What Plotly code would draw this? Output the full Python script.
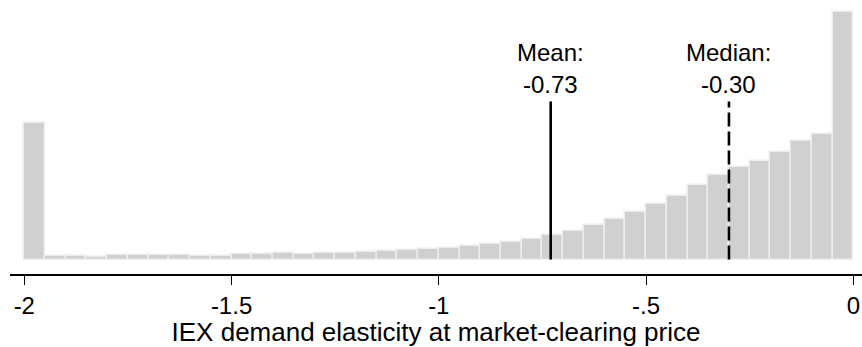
import plotly.graph_objects as go

# Histogram bins: width 0.05 from -2 to 0 (left edges)
bin_width = 0.05
bin_left = [-2 + i * bin_width for i in range(40)]
density = [1.75, 0.042, 0.042, 0.038, 0.055, 0.055, 0.055, 0.055, 0.051, 0.051,
           0.073, 0.073, 0.085, 0.077, 0.080, 0.080, 0.093, 0.106, 0.128, 0.140,
           0.149, 0.170, 0.195, 0.221, 0.264, 0.315, 0.366, 0.437, 0.514, 0.608,
           0.705, 0.816, 0.948, 1.075, 1.177, 1.254, 1.374, 1.509, 1.598, 3.167]

mean_val = -0.73
median_val = -0.30
mean_label = ["Mean:", "-0.73"]
median_label = ["Median:", "-0.30"]

tick_vals = [-2, -1.5, -1, -0.5, 0]
tick_text = ["-2", "-1.5", "-1", "-.5", "0"]

FONT = "Liberation Sans, Arial, sans-serif"

fig = go.Figure()
fig.add_trace(go.Bar(
    x=[b + bin_width / 2 for b in bin_left],
    y=density,
    width=bin_width,
    marker=dict(color="#d0d0d0", line=dict(color="#ececec", width=1.5)),
    hoverinfo="skip",
))

line_top = 2.02
fig.add_shape(type="line", x0=mean_val, x1=mean_val, y0=0, y1=line_top,
              line=dict(color="black", width=2.6))
fig.add_shape(type="line", x0=median_val, x1=median_val, y0=0, y1=line_top,
              line=dict(color="black", width=2.6, dash="14px,5px"))

for xv, lab in [(mean_val, mean_label), (median_val, median_label)]:
    fig.add_annotation(x=xv, y=2.64, text=lab[0], showarrow=False,
                       xanchor="center", yanchor="middle",
                       font=dict(family=FONT, size=24, color="black"))
    fig.add_annotation(x=xv, y=2.232, text=lab[1], showarrow=False,
                       xanchor="center", yanchor="middle",
                       font=dict(family=FONT, size=24, color="black"))

fig.update_layout(
    width=862, height=347,
    margin=dict(l=10, r=0, t=0, b=72.5),
    plot_bgcolor="white", paper_bgcolor="white",
    showlegend=False,
    bargap=0,
    xaxis=dict(
        range=[-2.0345, 0.021],
        tickvals=tick_vals, ticktext=tick_text,
        ticks="outside", ticklen=9, tickwidth=1.2, tickcolor="black",
        showline=True, linecolor="black", linewidth=1.5,
        showgrid=False, zeroline=False,
        tickfont=dict(family=FONT, size=24, color="black"),
        title=dict(text="IEX demand elasticity at market-clearing price",
                   font=dict(family=FONT, size=26, color="black"), standoff=3),
    ),
    yaxis=dict(
        range=[-0.185, 3.316],
        visible=False, showgrid=False, zeroline=False,
    ),
)

fig.write_html("out.html")
